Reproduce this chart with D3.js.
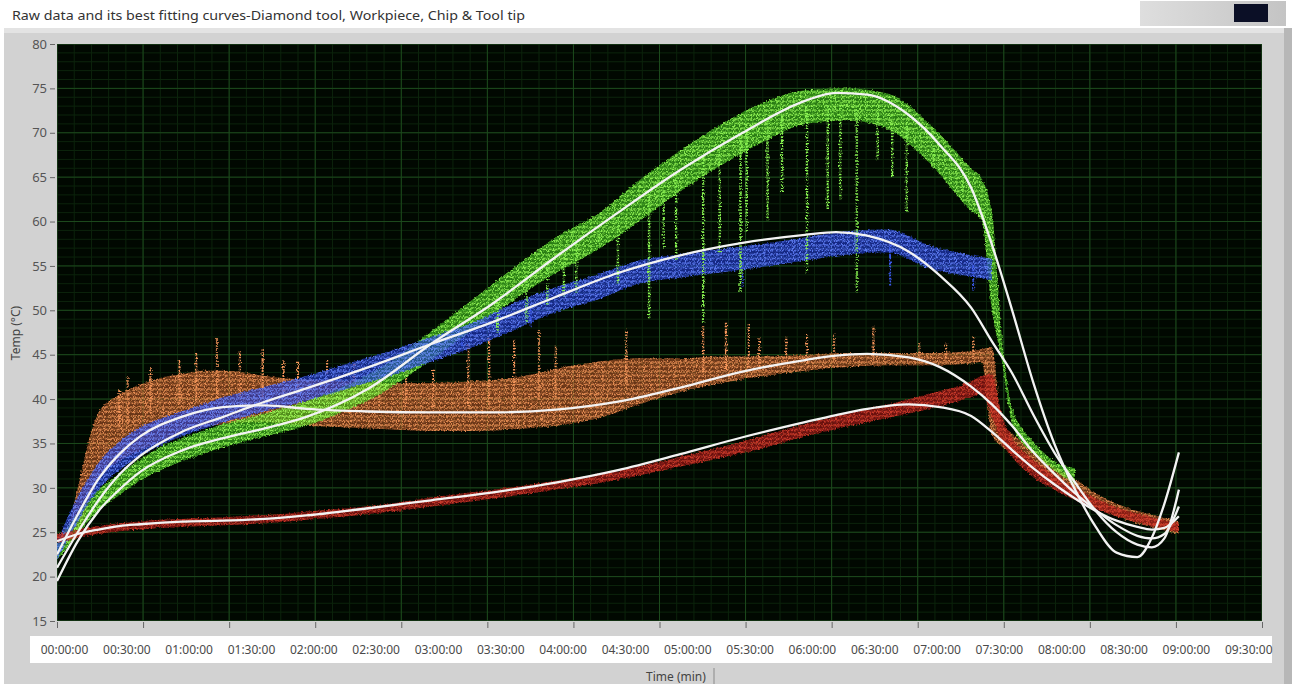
<!DOCTYPE html>
<html>
<head>
<meta charset="utf-8">
<script src="https://cdn.jsdelivr.net/npm/d3@7"></script>
<style>
  html, body { margin: 0; padding: 0; background: #ffffff; }
  svg { display: block; font-family: "Noto Sans", "Open Sans", sans-serif; }
</style>
</head>
<body>
<svg id="chart" width="1292" height="684"></svg>
<script>
// ---------------- data ----------------
const titleText = "Raw data and its best fitting curves-Diamond tool, Workpiece, Chip & Tool tip";
const yTitle = "Temp (\u00B0C)";
const xTitle = "Time (min)";

const yTicks = [15, 20, 25, 30, 35, 40, 45, 50, 55, 60, 65, 70, 75, 80];
const labelMinutes = [0, 30, 60, 90, 120, 150, 180, 210, 240, 270, 300, 330, 360, 390, 420, 450, 480, 510, 540, 570];
const timeLabels = ["00:00:00", "00:30:00", "01:00:00", "01:30:00", "02:00:00", "02:30:00", "03:00:00",
  "03:30:00", "04:00:00", "04:30:00", "05:00:00", "05:30:00", "06:00:00", "06:30:00", "07:00:00",
  "07:30:00", "08:00:00", "08:30:00", "09:00:00", "09:30:00"];

// raw measurement bands (minutes, lower / upper edge of the scatter, degC)
const rawMinutes = [0, 5, 10, 15, 20, 30, 40, 50, 60, 70, 80, 90, 100, 120, 140, 160, 180, 200, 220, 240,
  260, 280, 300, 320, 340, 360, 380, 400, 420, 440, 445, 450, 455, 460, 470, 480, 490, 500, 510, 520, 530, 540];

const chipLo = [22.0, 23.2, 24.8, 26.2, 27.4, 29.2, 30.8, 32.0, 33.0, 33.8, 34.6, 35.2, 35.8, 37.0, 38.8, 41.2,
  44.4, 47.8, 51.2, 54.2, 56.8, 60.0, 63.4, 66.4, 69.0, 71.0, 71.4, 70.4, 66.6, 61.2, 60.2, 50.0, 44.0, 37.0,
  33.8, 32.0, 30.4, null, null, null, null, null];
const chipHi = [24.0, 25.6, 27.2, 28.6, 29.8, 31.6, 33.2, 34.6, 35.6, 36.4, 37.2, 37.8, 38.4, 39.8, 41.6, 44.2,
  47.6, 51.2, 54.8, 58.2, 60.8, 64.6, 68.0, 71.0, 73.4, 74.8, 75.0, 74.4, 71.0, 66.0, 64.8, 61.0, 46.5, 38.8,
  35.2, 33.0, 32.2, null, null, null, null, null];

const tipLo = [22.0, 24.0, 26.2, 28.2, 29.8, 32.0, 33.6, 34.8, 35.8, 36.6, 37.4, 38.0, 38.6, 39.8, 41.2, 42.6,
  44.2, 45.8, 47.8, 49.8, 51.2, 53.0, 53.7, 54.3, 54.9, 55.6, 56.3, 56.5, 54.7, 53.8, 53.6, 53.4, null, null,
  null, null, null, null, null, null, null, null];
const tipHi = [24.0, 26.6, 29.0, 31.0, 32.8, 35.2, 36.8, 37.8, 38.6, 39.4, 40.2, 40.8, 41.4, 42.6, 44.0, 45.4,
  47.0, 48.6, 50.8, 52.6, 54.0, 55.6, 56.3, 56.9, 57.5, 58.2, 58.9, 59.1, 57.3, 56.2, 56.0, 55.8, null, null,
  null, null, null, null, null, null, null, null];

const toolLo = [23.6, 23.8, 24.4, 28.0, 31.0, 33.0, 34.2, 35.2, 36.2, 36.8, 37.2, 37.4, 37.4, 37.0, 36.8, 36.6,
  36.4, 36.4, 36.6, 37.0, 37.8, 39.4, 40.8, 41.8, 42.6, 43.2, 43.6, 43.8, 43.8, 44.0, 44.2, 36.0, 34.6, 33.8,
  32.0, 30.4, 29.0, 27.8, 26.8, 26.0, 25.4, 24.8];
const toolHi = [24.8, 25.6, 30.0, 35.0, 38.5, 40.5, 41.6, 42.4, 42.8, 43.2, 43.2, 43.0, 42.6, 42.2, 42.0, 41.8,
  41.8, 42.0, 42.4, 43.4, 44.2, 44.6, 44.6, 44.8, 44.8, 45.0, 45.2, 45.2, 45.2, 45.4, 45.6, 45.8, 37.0, 36.0,
  34.2, 32.4, 31.0, 29.4, 28.2, 27.4, 26.8, 26.2];

const workLo = [23.8, 24.1, 24.4, 24.6, 24.8, 25.1, 25.3, 25.5, 25.6, 25.7, 25.8, 25.9, 26.0, 26.4, 26.8, 27.3,
  27.9, 28.5, 29.1, 29.8, 30.5, 31.4, 32.4, 33.4, 34.5, 35.8, 36.9, 37.9, 38.9, 40.2, 40.6, 38.0, 35.0, 33.4,
  31.2, 29.8, 28.6, 27.6, 26.8, 26.1, 25.5, 25.0];
const workHi = [24.8, 25.0, 25.3, 25.5, 25.7, 26.0, 26.2, 26.4, 26.5, 26.6, 26.7, 26.8, 26.9, 27.3, 27.7, 28.2,
  28.9, 29.5, 30.1, 30.8, 31.5, 32.4, 33.5, 34.6, 35.9, 37.2, 38.4, 39.4, 40.6, 42.0, 42.6, 42.8, 38.0, 35.6,
  33.2, 31.4, 30.0, 28.8, 27.8, 27.1, 26.5, 26.0];

// isolated excursions of the raw scatter: [minute, extreme value]
const chipDips = [[212, 47.5], [226, 48.5], [236, 50.5], [244, 51.5], [250, 52.0], [261, 57.2], [270, 53.0],
  [285, 49.0], [292, 57.0], [298, 55.7], [311, 48.6], [319, 56.5], [329, 52.0], [332, 58.8], [342, 60.2],
  [349, 63.3], [361, 54.3], [371, 61.4], [377, 62.5], [385, 52.0], [395, 67.0], [402, 65.0], [409, 61.0],
  [422, 65.9], [436, 63.3], [446, 59.5]];
const tipDips = [[195, 45.8], [228, 48.2], [330, 52.5], [401, 52.8], [441, 52.2]];
const toolPeaks = [[30, 41.0], [34, 42.5], [45, 43.5], [59, 44.4], [67, 45.2], [77, 46.9], [88, 45.4],
  [99, 45.6], [109, 44.4], [116, 44.2], [130, 44.5], [143, 44.0], [155, 43.0], [168, 43.0], [181, 43.3],
  [198, 46.1], [208, 47.3], [220, 46.7], [232, 47.8], [240, 46.0], [274, 47.8], [311, 48.2], [322, 48.6],
  [333, 48.6], [338, 47.0], [351, 47.0], [361, 47.4], [374, 47.4], [393, 48.2], [415, 46.3], [428, 46.3],
  [441, 47.0]];

// best fitting curves
const fitMinutes = [0, 10, 20, 30, 40, 60, 80, 100, 120, 150, 180, 210, 240, 270, 300, 330, 360, 375, 390,
  410, 425, 440, 450, 460, 470, 480, 490, 500, 510, 520, 527, 533, 540];
const chipFit = [19.5, 24.0, 27.4, 29.8, 31.8, 34.2, 35.6, 36.7, 38.0, 41.2, 46.2, 50.8, 56.0, 61.0, 65.8,
  70.0, 73.6, 74.5, 74.3, 72.0, 68.6, 63.8, 57.4, 49.8, 41.8, 35.0, 29.8, 25.6, 22.7, 22.2, 24.4, 28.2, 34.0];
const tipFit = [21.0, 25.0, 28.6, 31.5, 33.6, 36.3, 38.0, 39.7, 41.2, 43.6, 46.2, 48.7, 51.5, 54.2, 56.2,
  57.6, 58.5, 58.8, 58.4, 56.6, 53.9, 50.3, 46.5, 42.8, 38.2, 34.0, 30.6, 27.4, 25.0, 23.6, 23.3, 24.3, 29.8];
const toolFit = [22.5, 27.0, 31.0, 33.8, 35.8, 38.0, 39.1, 39.3, 38.9, 38.6, 38.5, 38.5, 38.8, 39.7, 41.3,
  43.1, 44.4, 44.9, 45.1, 44.7, 43.6, 41.4, 39.4, 36.9, 34.0, 31.6, 29.4, 27.5, 25.8, 24.6, 24.3, 24.8, 27.9];
const workFit = [24.0, 24.8, 25.3, 25.7, 25.9, 26.2, 26.3, 26.5, 26.9, 27.7, 28.6, 29.5, 30.6, 32.0, 33.8,
  35.7, 37.4, 38.2, 38.9, 39.4, 39.1, 38.1, 36.3, 34.2, 32.2, 30.4, 28.8, 27.4, 26.3, 25.6, 25.3, 25.5, 26.8];

// ---------------- layout ----------------
const W = 1292, H = 684;
const plot = { left: 57, right: 1262, top: 44, bottom: 621 };
const xDivisions = 14;

const x = d3.scaleLinear().domain([0, 580]).range([plot.left, plot.right]);
const y = d3.scaleLinear().domain([15, 80]).range([plot.bottom, plot.top]);
const div = d3.scaleLinear().domain([0, xDivisions]).range([plot.left, plot.right]);

const svg = d3.select("#chart");
const defs = svg.append("defs");

// window frame
svg.append("rect").attr("width", W).attr("height", H).attr("fill", "#ffffff");
svg.append("rect").attr("x", 4).attr("y", 28).attr("width", 1282).attr("height", H - 28).attr("fill", "#d2d2d2");
svg.append("rect").attr("x", 4).attr("y", 28).attr("width", 1282).attr("height", 5).attr("fill", "#e3e3e3");
svg.append("rect").attr("x", 1284).attr("y", 28).attr("width", 8).attr("height", H - 28).attr("fill", "#b7b7b7");

// small indicator at the top right
const grad = defs.append("linearGradient").attr("id", "widgetGrad").attr("x1", 0).attr("x2", 1);
grad.append("stop").attr("offset", 0).attr("stop-color", "#dedede");
grad.append("stop").attr("offset", 1).attr("stop-color", "#c4c4c4");
svg.append("rect").attr("x", 1140).attr("y", 1).attr("width", 146).attr("height", 25).attr("fill", "url(#widgetGrad)");
svg.append("rect").attr("x", 1234).attr("y", 4).attr("width", 34).attr("height", 18).attr("fill", "#0b0f26");

// title
svg.append("text").attr("x", 12).attr("y", 20)
  .attr("font-size", 13).attr("fill", "#333")
  .attr("textLength", 513).attr("lengthAdjust", "spacingAndGlyphs")
  .text(titleText);

// plot background
svg.append("rect")
  .attr("x", plot.left).attr("y", plot.top)
  .attr("width", plot.right - plot.left).attr("height", plot.bottom - plot.top)
  .attr("fill", "#010801");

defs.append("clipPath").attr("id", "plotClip").append("rect")
  .attr("x", plot.left).attr("y", plot.top)
  .attr("width", plot.right - plot.left).attr("height", plot.bottom - plot.top);

// grid: minor every 1 degC and 1/5 division, major at every tick
const grid = svg.append("g").attr("clip-path", "url(#plotClip)");
const minorY = d3.range(15, 80.001, 1);
const minorX = d3.range(0, xDivisions + 0.001, 0.2);
grid.selectAll("line.mxv").data(minorX).join("line")
  .attr("x1", d => div(d)).attr("x2", d => div(d))
  .attr("y1", plot.top).attr("y2", plot.bottom)
  .attr("stroke", "#0c240c").attr("stroke-width", 1);
grid.selectAll("line.myh").data(minorY).join("line")
  .attr("x1", plot.left).attr("x2", plot.right)
  .attr("y1", d => y(d)).attr("y2", d => y(d))
  .attr("stroke", "#0c240c").attr("stroke-width", 1);
grid.selectAll("line.Mxv").data(d3.range(0, xDivisions + 1)).join("line")
  .attr("x1", d => div(d)).attr("x2", d => div(d))
  .attr("y1", plot.top).attr("y2", plot.bottom)
  .attr("stroke", "#1d4a1d").attr("stroke-width", 1);
grid.selectAll("line.Myh").data(yTicks).join("line")
  .attr("x1", plot.left).attr("x2", plot.right)
  .attr("y1", d => y(d)).attr("y2", d => y(d))
  .attr("stroke", "#1d4a1d").attr("stroke-width", 1);

// textures for the raw scatter: rows of small dotted chevrons
function chevronPattern(id, color) {
  const p = defs.append("pattern").attr("id", id)
    .attr("patternUnits", "userSpaceOnUse").attr("width", 6).attr("height", 4.5);
  p.append("path").attr("d", "M0,3.4 L1.5,1 L3,3.4 L4.5,1 L6,3.4")
    .attr("fill", "none").attr("stroke", color).attr("stroke-width", 1.3)
    .attr("stroke-dasharray", "1.3,0.9");
}
chevronPattern("texTool", "#f89a5c");
chevronPattern("texChip", "#9cff5a");
chevronPattern("texTip", "#6585ff");
chevronPattern("texWork", "#d8402e");

// ragged, slightly soft edge for the scatter bands
const rough = defs.append("filter").attr("id", "rough")
  .attr("x", "-2%").attr("y", "-5%").attr("width", "104%").attr("height", "110%");
rough.append("feTurbulence").attr("type", "fractalNoise").attr("baseFrequency", 0.55)
  .attr("numOctaves", 2).attr("seed", 3).attr("result", "n");
rough.append("feDisplacementMap").attr("in", "SourceGraphic").attr("in2", "n")
  .attr("scale", 3.5).attr("xChannelSelector", "R").attr("yChannelSelector", "G").attr("result", "d");
rough.append("feGaussianBlur").attr("in", "d").attr("stdDeviation", 0.45);

const rawLayer = svg.append("g").attr("clip-path", "url(#plotClip)")
  .append("g").attr("filter", "url(#rough)");

function rows(lo, hi) {
  return rawMinutes.map((t, i) => ({ t, lo: lo[i], hi: hi[i] }));
}
function midAt(lo, hi, t) {
  for (let i = 0; i < rawMinutes.length - 1; i++) {
    const a = rawMinutes[i], b = rawMinutes[i + 1];
    if (t >= a && t <= b && lo[i] != null && lo[i + 1] != null) {
      const f = (t - a) / (b - a);
      return ((lo[i] + f * (lo[i + 1] - lo[i])) + (hi[i] + f * (hi[i + 1] - hi[i]))) / 2;
    }
  }
  return null;
}
const band = d3.area()
  .defined(d => d.lo != null)
  .x(d => x(d.t)).y0(d => y(d.lo)).y1(d => y(d.hi))
  .curve(d3.curveMonotoneX);

function drawRaw(lo, hi, base, baseOpacity, tex) {
  const data = rows(lo, hi);
  rawLayer.append("path").datum(data).attr("d", band)
    .attr("fill", base).attr("fill-opacity", baseOpacity);
  rawLayer.append("path").datum(data).attr("d", band)
    .attr("fill", `url(#${tex})`);
}
function drawExcursions(list, lo, hi, color, width) {
  const pts = list.map(d => ({ t: d[0], v: d[1], m: midAt(lo, hi, d[0]) })).filter(d => d.m != null);
  rawLayer.selectAll(null).data(pts).join("line")
    .attr("x1", d => x(d.t)).attr("x2", d => x(d.t))
    .attr("y1", d => y(d.m)).attr("y2", d => y(d.v))
    .attr("stroke", color).attr("stroke-width", width)
    .attr("stroke-dasharray", "1.6,1.4");
}

// tool tip (orange), chip (green), diamond tool (blue), workpiece (red)
drawRaw(toolLo, toolHi, "#c95e28", 0.5, "texTool");
drawExcursions(toolPeaks, toolLo, toolHi, "#f4955a", 2.2);
drawRaw(chipLo, chipHi, "#40c41c", 0.6, "texChip");
drawRaw(tipLo, tipHi, "#1f38d0", 0.62, "texTip");
drawExcursions(tipDips, tipLo, tipHi, "#3a58ea", 2.0);
drawExcursions(chipDips, chipLo, chipHi, "#86f050", 2.4);
drawRaw(workLo, workHi, "#961414", 0.7, "texWork");

// fitted curves
const fitLayer = svg.append("g").attr("clip-path", "url(#plotClip)");
const fitLine = d3.line().x(d => x(d.t)).y(d => y(d.v)).curve(d3.curveMonotoneX);
[workFit, toolFit, tipFit, chipFit].forEach(vals => {
  const data = fitMinutes.map((t, i) => ({ t, v: vals[i] }));
  fitLayer.append("path").datum(data).attr("d", fitLine)
    .attr("fill", "none").attr("stroke", "#f3f3f3").attr("stroke-width", 2.3)
    .attr("stroke-linejoin", "round");
});

// y axis
const yAxis = svg.append("g").attr("transform", `translate(${plot.left - 2},0)`)
  .call(d3.axisLeft(y).tickValues(yTicks).tickSize(5).tickPadding(3));
yAxis.select(".domain").remove();
yAxis.selectAll("line").attr("stroke", "#666");
yAxis.selectAll("text").attr("font-size", 13).attr("fill", "#555")
  .attr("font-family", "\"Noto Sans\", sans-serif");

svg.append("text")
  .attr("transform", `translate(20,333) rotate(-90)`)
  .attr("text-anchor", "middle").attr("font-size", 12).attr("fill", "#444")
  .text(yTitle);

// division ticks below the plot
const divAxis = svg.append("g").attr("transform", `translate(0,${plot.bottom + 1})`)
  .call(d3.axisBottom(div).ticks(xDivisions).tickSize(6).tickFormat(""));
divAxis.select(".domain").remove();
divAxis.selectAll("line").attr("stroke", "#666");

// time label strip
svg.append("rect").attr("x", 30).attr("y", 636).attr("width", 1242).attr("height", 27).attr("fill", "#ffffff");
const xAxis = svg.append("g").attr("transform", "translate(0,645)")
  .call(d3.axisBottom(x).tickValues(labelMinutes).tickSize(0).tickPadding(0)
    .tickFormat((d, i) => timeLabels[i]));
xAxis.select(".domain").remove();
xAxis.selectAll("text").attr("font-size", 12).attr("fill", "#4a4a4a").attr("dx", 7)
  .attr("font-family", "\"Noto Sans\", sans-serif");

svg.append("text").attr("x", 646).attr("y", 681)
  .attr("font-size", 12).attr("fill", "#444").text(xTitle);
svg.append("line").attr("x1", 714).attr("x2", 714).attr("y1", 668).attr("y2", 684)
  .attr("stroke", "#8a8a8a").attr("stroke-width", 1);
</script>
</body>
</html>
